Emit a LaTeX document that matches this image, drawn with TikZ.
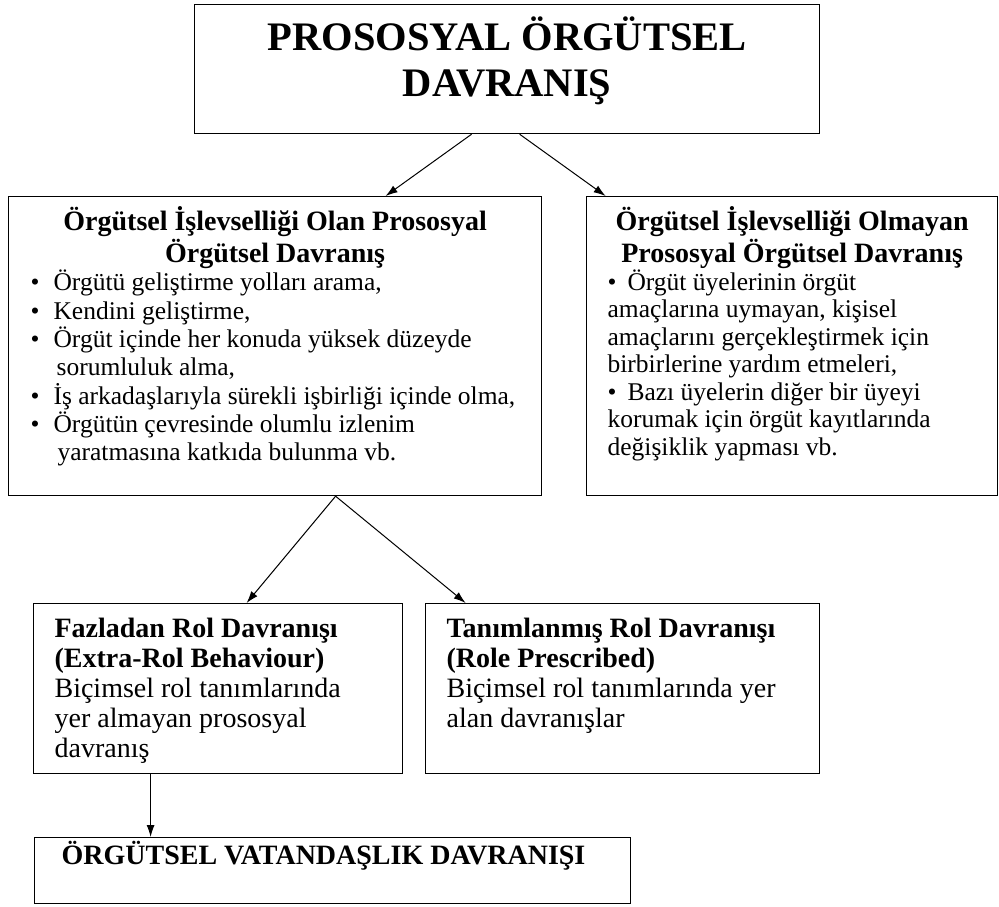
\documentclass[tikz,border=0pt]{standalone}
\usepackage{fontspec}
\setmainfont{Liberation Serif}
\usetikzlibrary{arrows.meta}
\tikzset{>={Latex[length=12pt,width=8pt]}}
\tikzset{kutu/.style={draw, line width=1.2pt, inner ysep=0pt, anchor=north west}}
\tikzset{ok/.style={->, line width=1pt}}
\newcommand{\kutuici}[3]{\parbox[c][#2][t]{#1}{#3}}
\newcommand{\madde}{\makebox[23pt][l]{\textbullet}}

\begin{document}
\begin{tikzpicture}[x=1pt,y=-1pt]
\useasboundingbox[fill=white] (0,0) rectangle (999,907);

% ust kutu
\node[kutu, inner xsep=10pt] (prososyal) at (194,4) {\kutuici{605pt}{129pt}{\centering
  \fontsize{40.5}{46}\selectfont\bfseries\rule{0pt}{46pt}PROSOSYAL ÖRGÜTSEL\\DAVRANIŞ\par}};

% orta kutular
\node[kutu, inner xsep=22pt] (olan) at (8,196) {\kutuici{489pt}{299pt}{%
  {\centering\fontsize{28}{32}\selectfont\bfseries\rule{0pt}{34pt}Örgütsel İşlevselliği Olan Prososyal\\Örgütsel Davranış\par}
  {\raggedright\fontsize{25.5}{28.3}\selectfont
  \madde Örgütü geliştirme yolları arama,\\
  \madde Kendini geliştirme,\\
  \madde Örgüt içinde her konuda yüksek düzeyde\\
  \hspace*{26pt}sorumluluk alma,\\
  \madde İş arkadaşlarıyla sürekli işbirliği içinde olma,\\
  \madde Örgütün çevresinde olumlu izlenim\\
  \hspace*{27pt}yaratmasına katkıda bulunma vb.\par}}};
\node[kutu, inner xsep=21pt] (olmayan) at (586,196) {\kutuici{369pt}{299pt}{%
  {\centering\fontsize{28}{32}\selectfont\bfseries\rule{0pt}{34pt}Örgütsel İşlevselliği Olmayan\\Prososyal Örgütsel Davranış\par}
  {\raggedright\fontsize{25.5}{27.5}\selectfont
  \textbullet\hspace{11pt}Örgüt üyelerinin örgüt\\
  amaçlarına uymayan, kişisel\\
  amaçlarını gerçekleştirmek için\\
  birbirlerine yardım etmeleri,\\
  \textbullet\hspace{11pt}Bazı üyelerin diğer bir üyeyi\\
  korumak için örgüt kayıtlarında\\
  değişiklik yapması vb.\par}}};

% alt kutular
\node[kutu, inner xsep=21pt] (fazla) at (33,603) {\kutuici{327pt}{170pt}{\raggedright
  \fontsize{28}{30}\selectfont\rule{0pt}{34pt}\textbf{Fazladan Rol Davranışı}\\
  \textbf{(Extra-Rol Behaviour)}\\
  Biçimsel rol tanımlarında\\
  yer almayan prososyal\\
  davranış\par}};
\node[kutu, inner xsep=21pt] (tanim) at (425,603) {\kutuici{352pt}{170pt}{\raggedright
  \fontsize{28}{30}\selectfont\rule{0pt}{34pt}\textbf{Tanımlanmış Rol Davranışı}\\
  \textbf{(Role Prescribed)}\\
  Biçimsel rol tanımlarında yer\\
  alan davranışlar\par}};
\node[kutu, inner xsep=27pt] (vatandas) at (34,837) {\kutuici{542pt}{66pt}{%
  \fontsize{28}{30}\selectfont\bfseries\rule{0pt}{27pt}ÖRGÜTSEL VATANDAŞLIK DAVRANIŞI\par}};

% oklar
\draw[ok] ([xshift=-35.5pt]prososyal.south) -- ([xshift=110.5pt]olan.north);
\draw[ok] ([xshift=12.5pt]prososyal.south) -- ([xshift=-186.5pt]olmayan.north);
\draw[ok] ([xshift=60.5pt]olan.south) -- ([xshift=28.5pt]fazla.north);
\draw[ok] ([xshift=60.5pt]olan.south) -- ([xshift=-157pt]tanim.north);
\draw[ok] ([xshift=-67.5pt]fazla.south) -- ([xshift=-182pt]vatandas.north);
\end{tikzpicture}
\end{document}
